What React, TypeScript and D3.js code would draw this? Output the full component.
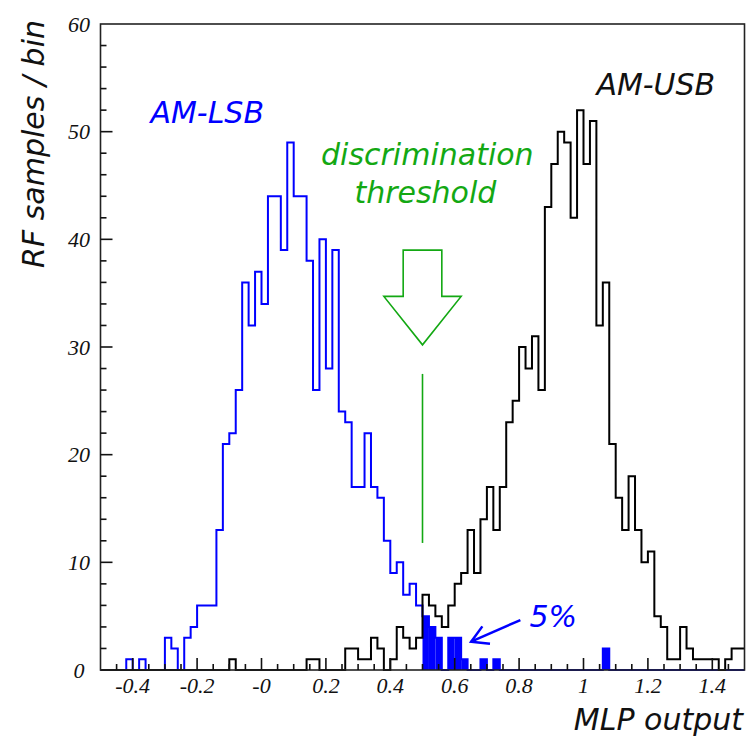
import React, { useEffect, useRef } from 'react';
import * as d3 from 'd3';

// MLP output histogram, 100 bins of 0.02 from -0.5 to 1.5
const binLow = -0.5;
const binWidth = 0.02;

// AM-LSB (blue) counts per bin
const lsbCounts = [
  0, 0, 0, 0, 1, 0, 1, 0, 0, 0,
  3, 2, 0, 3, 4, 6, 6, 6, 13, 21,
  22, 26, 36, 32, 37, 34, 44, 44, 39, 49,
  44, 44, 38, 26, 40, 28, 39, 24, 23, 17,
  17, 22, 17, 16, 12, 9, 10, 7, 8, 6,
  5, 4, 3, 0, 3, 3, 1, 0, 0, 1,
  0, 1, 0, 0, 0, 0, 0, 0, 0, 0,
  0, 0, 0, 0, 0, 0, 0, 0, 2, 0,
  0, 0, 0, 0, 0, 0, 0, 0, 0, 0,
  0, 0, 0, 0, 0, 0, 0, 0, 0, 0,
];

// AM-USB (black) counts per bin
const usbCounts = [
  0, 0, 0, 0, 0, 0, 0, 0, 0, 0,
  0, 0, 0, 0, 0, 0, 0, 0, 0, 0,
  1, 0, 0, 0, 0, 0, 0, 0, 0, 0,
  0, 0, 1, 1, 0, 0, 0, 0, 2, 2,
  1, 1, 3, 2, 0, 1, 4, 3, 2, 3,
  7, 6, 5, 4, 6, 8, 9, 13, 9, 14,
  17, 13, 17, 23, 25, 30, 28, 31, 26, 43,
  47, 50, 49, 42, 52, 47, 51, 32, 36, 21,
  16, 13, 18, 13, 10, 11, 5, 4, 1, 1,
  4, 2, 1, 1, 1, 1, 0, 1, 2, 2,
];

const threshold = 0.5;
const xTickLabels = ['-0.4', '-0.2', '-0', '0.2', '0.4', '0.6', '0.8', '1', '1.2', '1.4'];
const xTickValues = [-0.4, -0.2, 0, 0.2, 0.4, 0.6, 0.8, 1, 1.2, 1.4];
const yTickValues = [0, 10, 20, 30, 40, 50, 60];

const GREEN = '#13a813';
const sans = '"DejaVu Sans", Verdana, sans-serif';
const serif = '"Liberation Serif", "Times New Roman", serif';

const App = () => {
  const chartRef = useRef(null);

  useEffect(() => {
    if (!chartRef.current) return;
    d3.select(chartRef.current).selectAll('*').remove();

    const W = 749, H = 740;
    const svg = d3.select(chartRef.current)
      .append('svg')
      .attr('width', W)
      .attr('height', H)
      .style('position', 'absolute')
      .style('left', 0)
      .style('top', 0)
      .style('background', '#fff');

    const x = d3.scaleLinear().domain([-0.5, 1.5]).range([100.5, 744.5]);
    const y = d3.scaleLinear().domain([0, 60]).range([670, 24]);

    const stepPath = (counts) => {
      const pts = [];
      counts.forEach((c, i) => {
        const lo = binLow + i * binWidth;
        pts.push([lo, c], [lo + binWidth, c]);
      });
      return d3.line().x(d => x(d[0])).y(d => y(d[1]))(pts);
    };

    // blue outline
    svg.append('path')
      .attr('d', stepPath(lsbCounts))
      .attr('fill', 'none')
      .attr('stroke', '#0000ff')
      .attr('stroke-width', 2);

    // blue fill above threshold
    const filled = lsbCounts
      .map((c, i) => ({ lo: binLow + i * binWidth, c }))
      .filter(d => d.lo >= threshold - 1e-9 && d.c > 0);
    svg.append('g').selectAll('rect')
      .data(filled)
      .join('rect')
      .attr('x', d => x(d.lo))
      .attr('width', d => x(d.lo + binWidth) - x(d.lo))
      .attr('y', d => y(d.c))
      .attr('height', d => y(0) - y(d.c))
      .attr('fill', '#0000ff');

    // black outline
    svg.append('path')
      .attr('d', stepPath(usbCounts))
      .attr('fill', 'none')
      .attr('stroke', '#000')
      .attr('stroke-width', 2);

    // frame
    svg.append('rect')
      .attr('x', x(-0.5))
      .attr('y', y(60))
      .attr('width', x(1.5) - x(-0.5))
      .attr('height', y(0) - y(60))
      .attr('fill', 'none')
      .attr('stroke', '#222')
      .attr('stroke-width', 1.6);

    // x ticks
    const xt = d3.range(-0.45, 1.5, 0.05);
    svg.append('g').selectAll('line')
      .data(xt)
      .join('line')
      .attr('x1', d => x(d))
      .attr('x2', d => x(d))
      .attr('y1', y(0))
      .attr('y2', d => {
        const major = Math.abs(d / 0.2 - Math.round(d / 0.2)) < 1e-6;
        return y(0) - (major ? 12 : 6);
      })
      .attr('stroke', '#111')
      .attr('stroke-width', 1.6);

    // y ticks
    const yt = d3.range(2, 60, 2);
    svg.append('g').selectAll('line')
      .data(yt)
      .join('line')
      .attr('x1', x(-0.5))
      .attr('x2', d => x(-0.5) + (d % 10 === 0 ? 12 : 6))
      .attr('y1', d => y(d))
      .attr('y2', d => y(d))
      .attr('stroke', '#111')
      .attr('stroke-width', 1.6);

    svg.append('g').selectAll('text')
      .data(xTickValues)
      .join('text')
      .attr('x', d => x(d))
      .attr('y', 693)
      .attr('text-anchor', 'middle')
      .attr('font-family', serif)
      .attr('font-style', 'italic')
      .attr('font-size', 22)
      .attr('fill', '#111')
      .text((d, i) => xTickLabels[i]);

    svg.append('g').selectAll('text')
      .data(yTickValues)
      .join('text')
      .attr('x', 79)
      .attr('y', d => y(d))
      .attr('dy', '0.35em')
      .attr('text-anchor', 'middle')
      .attr('font-family', serif)
      .attr('font-style', 'italic')
      .attr('font-size', 22)
      .attr('fill', '#111')
      .text(d => d);

    // axis titles
    svg.append('text')
      .attr('transform', 'translate(44,20) rotate(-90)')
      .attr('text-anchor', 'end')
      .attr('font-family', sans)
      .attr('font-style', 'italic')
      .attr('font-size', 30)
      .attr('fill', '#111')
      .text('RF samples / bin');

    svg.append('text')
      .attr('x', 743)
      .attr('y', 730)
      .attr('text-anchor', 'end')
      .attr('font-family', sans)
      .attr('font-style', 'italic')
      .attr('font-size', 30)
      .attr('fill', '#111')
      .text('MLP output');

    const label = (txt, vx, vy, color, anchor = 'start') =>
      svg.append('text')
        .attr('x', x(vx))
        .attr('y', y(vy))
        .attr('text-anchor', anchor)
        .attr('font-family', sans)
        .attr('font-style', 'italic')
        .attr('font-size', 30)
        .attr('fill', color)
        .text(txt);

    label('AM-LSB', -0.345, 50.8, '#0000ff');
    label('AM-USB', 1.04, 53.4, '#111');
    label('discrimination', 0.515, 46.9, GREEN, 'middle');
    label('threshold', 0.509, 43.4, GREEN, 'middle');
    label('5%', 0.832, 4.0, '#0000ff');

    // threshold arrow (outline) and line
    const arrowPts = [
      [0.44, 39], [0.56, 39], [0.56, 34.7], [0.62, 34.7],
      [0.5, 30.2], [0.38, 34.7], [0.44, 34.7],
    ];
    svg.append('path')
      .attr('d', d3.line().x(d => x(d[0])).y(d => y(d[1])).curve(d3.curveLinearClosed)(arrowPts))
      .attr('fill', 'none')
      .attr('stroke', GREEN)
      .attr('stroke-width', 1.6);

    svg.append('line')
      .attr('x1', x(threshold)).attr('x2', x(threshold))
      .attr('y1', y(11.8)).attr('y2', y(27.5))
      .attr('stroke', GREEN)
      .attr('stroke-width', 1.6);

    // arrow pointing at the 5% tail
    const ax0 = x(0.804), ay0 = y(4.64), ax1 = x(0.651), ay1 = y(2.63);
    const ang = Math.atan2(ay0 - ay1, ax0 - ax1);
    const hl = 19, spread = Math.PI / 6;
    svg.append('line')
      .attr('x1', ax0).attr('y1', ay0).attr('x2', ax1).attr('y2', ay1)
      .attr('stroke', '#0000ff').attr('stroke-width', 2.5);
    svg.append('path')
      .attr('d', `M${ax1 + hl * Math.cos(ang - spread)},${ay1 + hl * Math.sin(ang - spread)}L${ax1},${ay1}L${ax1 + hl * Math.cos(ang + spread)},${ay1 + hl * Math.sin(ang + spread)}`)
      .attr('fill', 'none')
      .attr('stroke', '#0000ff')
      .attr('stroke-width', 2.5);
  }, []);

  return <div ref={chartRef}></div>;
};

export default App;
